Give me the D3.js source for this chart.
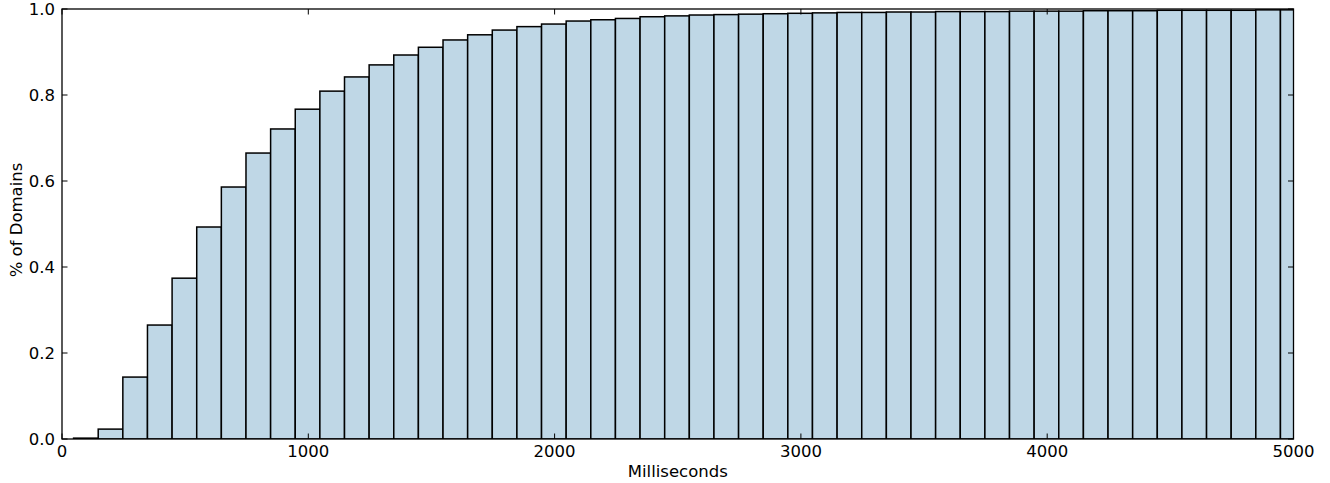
<!DOCTYPE html>
<html>
<head>
<meta charset="utf-8">
<script src="https://cdn.jsdelivr.net/npm/d3@7"></script>
<style>
  body { margin: 0; background: #fff; }
  text { font-family: "DejaVu Sans", sans-serif; fill: #000; }
</style>
</head>
<body>
<svg id="chart" width="1330" height="483"></svg>
<script>
// Cumulative histogram of load times, bins of 100 ms
var binStarts = [47, 147, 247, 347, 447, 547, 647, 747, 847, 947,
  1047, 1147, 1247, 1347, 1447, 1547, 1647, 1747, 1847, 1947,
  2047, 2147, 2247, 2347, 2447, 2547, 2647, 2747, 2847, 2947,
  3047, 3147, 3247, 3347, 3447, 3547, 3647, 3747, 3847, 3947,
  4047, 4147, 4247, 4347, 4447, 4547, 4647, 4747, 4847, 4947];
var binWidth = 100;
var cumFraction = [0.002, 0.023, 0.144, 0.265, 0.374, 0.493, 0.586, 0.665, 0.721, 0.767,
  0.809, 0.842, 0.870, 0.893, 0.911, 0.928, 0.940, 0.951, 0.959, 0.965,
  0.972, 0.975, 0.978, 0.982, 0.984, 0.986, 0.987, 0.988, 0.989, 0.990,
  0.991, 0.992, 0.992, 0.993, 0.993, 0.994, 0.994, 0.994, 0.995, 0.995,
  0.995, 0.996, 0.996, 0.996, 0.997, 0.997, 0.997, 0.997, 0.998, 0.998];
var xTicks = [0, 1000, 2000, 3000, 4000, 5000];
var yTicks = [0.0, 0.2, 0.4, 0.6, 0.8, 1.0];

var svg = d3.select('#chart');
var margin = {top: 9, right: 36.5, bottom: 44, left: 62};
var W = 1330, H = 483;
var innerW = W - margin.left - margin.right;
var innerH = H - margin.top - margin.bottom;
var fontSize = '16.5px';
var tickLen = 5.5;

var x = d3.scaleLinear().domain([0, 5000]).range([0, innerW]);
var y = d3.scaleLinear().domain([0, 1]).range([innerH, 0]);

var g = svg.append('g').attr('transform', 'translate(' + margin.left + ',' + margin.top + ')');

g.append('clipPath').attr('id', 'plot-clip')
  .append('rect').attr('width', innerW).attr('height', innerH);

// bars
g.append('g').attr('clip-path', 'url(#plot-clip)')
  .selectAll('rect')
  .data(binStarts)
  .enter().append('rect')
  .attr('x', function (d) { return x(d); })
  .attr('width', function (d) { return x(d + binWidth) - x(d); })
  .attr('y', function (d, i) { return y(cumFraction[i]); })
  .attr('height', function (d, i) { return y(0) - y(cumFraction[i]); })
  .attr('fill', '#bfd7e6')
  .attr('stroke', '#000')
  .attr('stroke-width', 1.5);

// frame
g.append('rect')
  .attr('width', innerW).attr('height', innerH)
  .attr('fill', 'none').attr('stroke', '#000').attr('stroke-width', 1.3);

// inward ticks on all four sides
var ticks = g.append('g').attr('stroke', '#000').attr('stroke-width', 1);
xTicks.forEach(function (t) {
  ticks.append('line').attr('x1', x(t)).attr('x2', x(t)).attr('y1', innerH).attr('y2', innerH - tickLen);
  ticks.append('line').attr('x1', x(t)).attr('x2', x(t)).attr('y1', 0).attr('y2', tickLen);
});
yTicks.forEach(function (t) {
  ticks.append('line').attr('x1', 0).attr('x2', tickLen).attr('y1', y(t)).attr('y2', y(t));
  ticks.append('line').attr('x1', innerW).attr('x2', innerW - tickLen).attr('y1', y(t)).attr('y2', y(t));
});

// tick labels
g.append('g').selectAll('text')
  .data(xTicks).enter().append('text')
  .attr('x', function (d) { return x(d); })
  .attr('y', innerH + 18)
  .attr('text-anchor', 'middle')
  .style('font-size', fontSize)
  .text(function (d) { return d; });

g.append('g').selectAll('text')
  .data(yTicks).enter().append('text')
  .attr('x', -7)
  .attr('y', function (d) { return y(d); })
  .attr('dy', '0.36em')
  .attr('text-anchor', 'end')
  .style('font-size', fontSize)
  .text(function (d) { return d3.format('.1f')(d); });

// axis labels
svg.append('text')
  .attr('x', margin.left + innerW / 2)
  .attr('y', 477)
  .attr('text-anchor', 'middle')
  .style('font-size', fontSize)
  .text('Milliseconds');

svg.append('text')
  .attr('transform', 'translate(22,220) rotate(-90)')
  .attr('text-anchor', 'middle')
  .style('font-size', fontSize)
  .text('% of Domains');
</script>
</body>
</html>
